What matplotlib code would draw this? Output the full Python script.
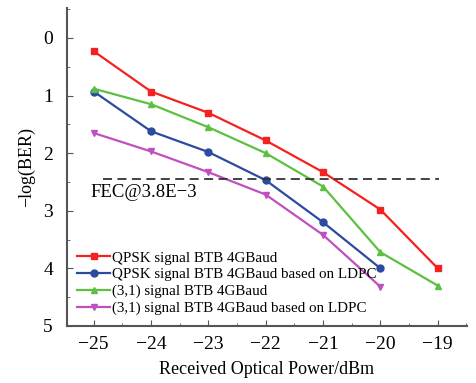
import matplotlib
matplotlib.use('Agg')
import matplotlib.pyplot as plt
from matplotlib.ticker import MultipleLocator

plt.rcParams['font.family'] = ['Liberation Serif', 'DejaVu Serif']

power = [-25, -24, -23, -22, -21, -20, -19]
qpsk = [0.23, 0.93, 1.30, 1.78, 2.33, 2.98, 4.00]
qpsk_ldpc = [0.93, 1.62, 1.98, 2.47, 3.20, 4.00]
s31 = [0.88, 1.15, 1.55, 2.00, 2.58, 3.72, 4.30]
s31_ldpc = [1.65, 1.97, 2.33, 2.72, 3.42, 4.32]
fec_level = 2.45
fec_x = [-24.84, -18.97]

fig = plt.figure(figsize=(4.77, 3.83), dpi=100)
ax = fig.add_axes([0.14, 0.149, 0.839, 0.83])

ax.plot(power, qpsk, '-s', color='#f52020', lw=1.6, ms=5, label='QPSK signal BTB 4GBaud')
ax.plot(power[:6], qpsk_ldpc, '-o', color='#2c4aa0', lw=1.6, ms=5, label='QPSK signal BTB 4GBaud based on LDPC')
ax.plot(power, s31, '-^', color='#5cc040', lw=1.6, ms=5, label='(3,1) signal BTB 4GBaud')
ax.plot(power[:6], s31_ldpc, '-v', color='#c050c0', lw=1.6, ms=5, label='(3,1) signal BTB 4GBaud based on LDPC')
ax.plot(fec_x, [fec_level, fec_level], '--', color='#333333', lw=1.3, dashes=(5, 3))
ax.text(-25.05, 2.76, 'FEC@3.8E\u22123', fontsize=13.5)

ax.set_xlim(-25.47, -18.49)
ax.set_ylim(5, -0.52)
ax.set_xticks(power)
ax.set_xticklabels(['\u2212%d' % abs(p) for p in power])
ax.xaxis.set_minor_locator(MultipleLocator(0.5))
ax.set_yticks([0, 1, 2, 3, 4, 5])
ax.yaxis.set_minor_locator(MultipleLocator(0.5))
ax.tick_params(labelsize=14)
ax.tick_params(axis='y', pad=10)
ax.tick_params(axis='x', pad=7)
ax.spines['top'].set_visible(False)
ax.spines['right'].set_visible(False)
for s in ['left', 'bottom']:
    ax.spines[s].set_color('#555555')
    ax.spines[s].set_linewidth(1.5)
ax.tick_params(direction='in', length=4, color='#555555')
ax.tick_params(which='minor', direction='in', length=2, color='#555555')

ax.set_xlabel('Received Optical Power/dBm', fontsize=13, labelpad=6)
ax.set_ylabel('\u2212log(BER)', fontsize=13, labelpad=6)
ax.legend(loc='lower left', frameon=False, fontsize=10.8, handlelength=2.2,
          handletextpad=0.1, labelspacing=0.22, borderaxespad=0.3)

fig.savefig('out.png', dpi=100)
